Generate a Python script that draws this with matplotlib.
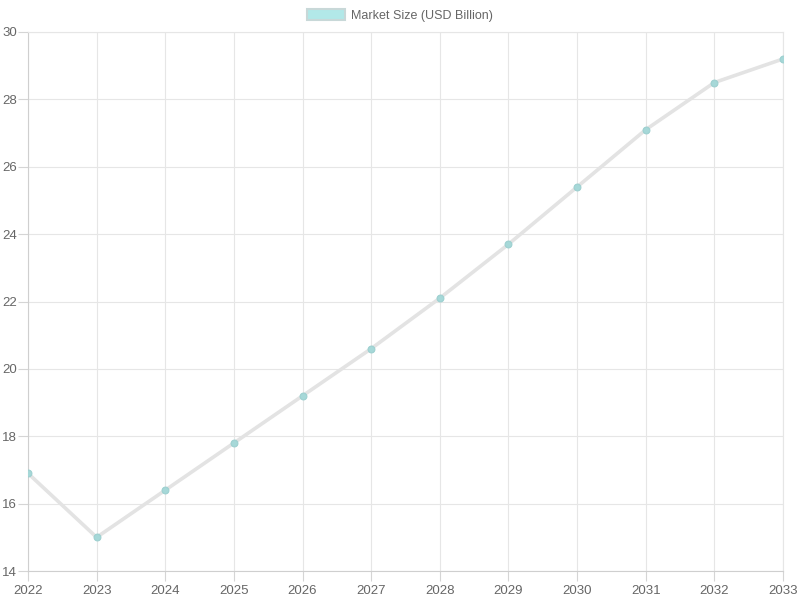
import matplotlib
matplotlib.use("Agg")
import matplotlib.pyplot as plt
from matplotlib.patches import Patch

plt.rcParams['font.family'] = ['Liberation Sans', 'DejaVu Sans']

years = [2022, 2023, 2024, 2025, 2026, 2027, 2028, 2029, 2030, 2031, 2032, 2033]
market_size = [16.9, 15.0, 16.4, 17.8, 19.2, 20.6, 22.1, 23.7, 25.4, 27.1, 28.5, 29.2]
y_ticks = [14, 16, 18, 20, 22, 24, 26, 28, 30]
series_label = 'Market Size (USD Billion)'

text_color = '#666666'
grid_color = '#e6e6e6'

fig = plt.figure(figsize=(8, 6), dpi=100)
ax = fig.add_axes([28 / 800, 1 - 571 / 600, (783 - 28) / 800, (571 - 32) / 600])

ax.plot(years, market_size, color='#e3e3e3', linewidth=2.6, zorder=2, solid_capstyle='round')
ax.scatter(years, market_size, s=24, color='#a6d8d8', edgecolors='#9dd0d0', linewidths=0.8, zorder=3)

ax.set_xlim(years[0], years[-1])
ax.set_ylim(y_ticks[0], y_ticks[-1])
ax.set_xticks(years)
ax.set_yticks(y_ticks)
ax.grid(True, color=grid_color, linewidth=0.8)
ax.set_axisbelow(True)
for side in ['top', 'right']:
    ax.spines[side].set_color(grid_color)
for side in ['left', 'bottom']:
    ax.spines[side].set_color('#cfcfcf')
ax.tick_params(axis='both', colors='#d5d5d5', labelcolor=text_color, labelsize=9.5, length=7, width=0.8)
ax.tick_params(axis='x', pad=3)
ax.tick_params(axis='y', pad=1)

handle = Patch(facecolor='#b2e8e8', edgecolor='#c8d8d8', linewidth=1.5)
leg = fig.legend([handle], [series_label], loc='upper center', bbox_to_anchor=(0.5, 1.003),
                 frameon=False, fontsize=9, handlelength=3.0, handleheight=0.9, handletextpad=0.5)
for t in leg.get_texts():
    t.set_color(text_color)

fig.savefig('out.png', dpi=100)
